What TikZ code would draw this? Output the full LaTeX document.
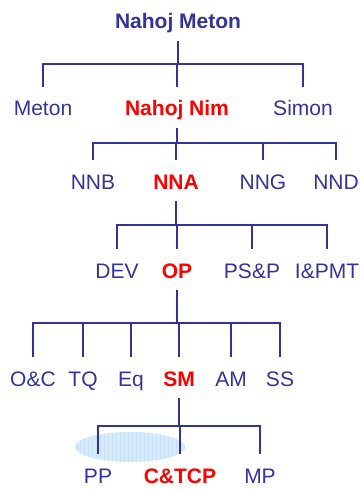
\documentclass[tikz,border=0pt]{standalone}
\usepackage{fontspec}
\setmainfont{Liberation Sans}
\definecolor{navy}{RGB}{51,51,153}
\definecolor{hot}{RGB}{255,0,0}
\definecolor{haze}{RGB}{214,234,250}
\definecolor{hazeline}{RGB}{200,225,246}

\begin{document}
\begin{tikzpicture}
	[x=1pt,y=-1pt,every node/.style={anchor=base,inner sep=0pt,text height=15pt,text depth=4pt,text=navy,font=\fontsize{21}{25}\selectfont}]
	\tikzset{key/.style = {text=hot,font=\fontsize{21}{25}\selectfont\bfseries},
		stem/.style = {draw=navy,line width=2.4pt,shorten <=8pt},
		drop/.style = {draw=navy,line width=1.7pt,shorten >=14pt}}
	\useasboundingbox (0,0) rectangle (360,489);

	% shaded spot behind PP and C&TCP
	\fill[haze] (130,447) ellipse (55 and 15);
	\begin{scope}
		\clip (130,447) ellipse (55 and 15);
		\draw[hazeline,line width=.4pt,step=4] (70,428) grid (190,466);
	\end{scope}

	\node[font=\fontsize{21}{25}\selectfont\bfseries] (top) at (178,29) {Nahoj Meton};

	\node (meton) at (43,116) {Meton};
	\node[key] (nim) at (177,116) {Nahoj Nim};
	\node (simon) at (303,116) {Simon};

	\node (nnb) at (93,189) {NNB};
	\node[key] (nna) at (176,189) {NNA};
	\node (nng) at (263,189) {NNG};
	\node (nnd) at (336,189) {NND};

	\node (dev) at (117,278) {DEV};
	\node[key] (op) at (177,278) {OP};
	\node (psp) at (252,278) {PS\&P};
	\node (ipmt) at (327,278) {I\&PMT};

	\node (oc) at (33,386) {O\&C};
	\node (tq) at (83,386) {TQ};
	\node (eq) at (131,386) {Eq};
	\node[key] (sm) at (179,386) {SM};
	\node (am) at (231,386) {AM};
	\node (ss) at (280,386) {SS};

	\node (pp) at (98,483) {PP};
	\node[key] (ctcp) at (180,483) {C\&TCP};
	\node (mp) at (260,483) {MP};

	% bars under each parent
	\foreach \p/\y in {top/64,nim/143,nna/225,op/323,sm/426}
	{
		\coordinate (\p-bar) at (\p |- 0,\y);
		\draw[stem] (\p.south) -- (\p-bar);
	}

	\foreach \from/\to in {top/meton,top/nim,top/simon,
		nim/nnb,nim/nna,nim/nng,nim/nnd,
		nna/dev,nna/op,nna/psp,nna/ipmt,
		op/oc,op/tq,op/eq,op/sm,op/am,op/ss,
		sm/pp,sm/ctcp,sm/mp}
	\draw[drop] (\from-bar) -| (\to.north);
\end{tikzpicture}
\end{document}
